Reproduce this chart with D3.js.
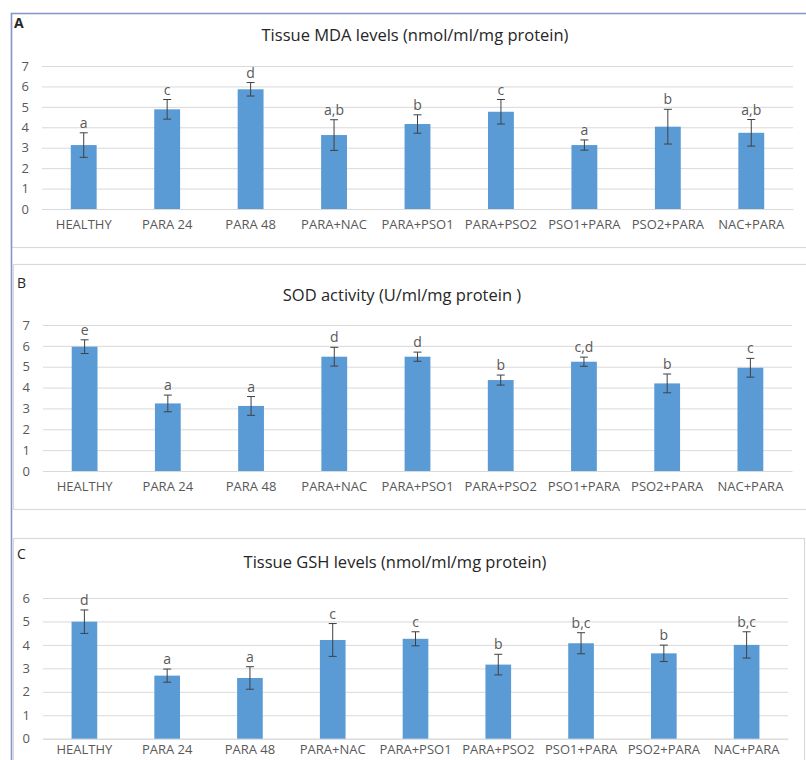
<!DOCTYPE html>
<html>
<head>
<meta charset="utf-8">
<script src="https://cdn.jsdelivr.net/npm/d3@7"></script>
<style>
  body { margin: 0; background: #fff; }
  svg { display: block; font-family: "Open Sans", "Noto Sans", sans-serif; }
</style>
</head>
<body>
<div id="root"></div>
<script>
const categories = ['HEALTHY', 'PARA 24', 'PARA 48', 'PARA+NAC', 'PARA+PSO1', 'PARA+PSO2', 'PSO1+PARA', 'PSO2+PARA', 'NAC+PARA']

const mdaValues = [3.13, 4.88, 5.86, 3.62, 4.16, 4.76, 3.13, 4.03, 3.73]
const mdaErrors = [0.6, 0.48, 0.33, 0.75, 0.45, 0.6, 0.25, 0.85, 0.65]
const mdaLetters = ['a', 'c', 'd', 'a,b', 'b', 'c', 'a', 'b', 'a,b']
const mdaTicks = [0, 1, 2, 3, 4, 5, 6, 7]

const sodValues = [5.96, 3.24, 3.12, 5.48, 5.48, 4.36, 5.24, 4.2, 4.95]
const sodErrors = [0.33, 0.4, 0.45, 0.45, 0.22, 0.24, 0.22, 0.45, 0.45]
const sodLetters = ['e', 'a', 'a', 'd', 'd', 'b', 'c,d', 'b', 'c']
const sodTicks = [0, 1, 2, 3, 4, 5, 6, 7]

const gshValues = [4.99, 2.69, 2.59, 4.21, 4.26, 3.16, 4.07, 3.64, 4.0]
const gshErrors = [0.5, 0.28, 0.48, 0.7, 0.3, 0.44, 0.45, 0.35, 0.56]
const gshLetters = ['d', 'a', 'a', 'c', 'c', 'b', 'b,c', 'b', 'b,c']
const gshTicks = [0, 1, 2, 3, 4, 5, 6]

const width = 806
const height = 760

const svg = d3.select('#root').append('svg')
  .attr('width', width)
  .attr('height', height)

// panel frames
const frames = [
  { x: 11, y: 13, w: 800, h: 234 },
  { x: 13, y: 264, w: 800, h: 245 },
  { x: 13, y: 538, w: 791, h: 240 }
]
frames.forEach(f => {
  svg.append('rect')
    .attr('x', f.x + 0.5).attr('y', f.y + 0.5)
    .attr('width', f.w).attr('height', f.h)
    .attr('fill', 'none')
    .attr('stroke', '#d9d9d9')
    .attr('stroke-width', 1.2)
})
// outer blue frame, top and left
svg.append('path')
  .attr('d', 'M11.5,' + height + 'V13.5H' + width)
  .attr('fill', 'none')
  .attr('stroke', '#8796c6')
  .attr('stroke-width', 1.6)

function drawPanel(cfg) {
  const x = d3.scaleBand().domain(categories).range([cfg.left, cfg.right]).paddingInner(0.69).paddingOuter(0.345)
  const y = d3.scaleLinear().domain([0, d3.max(cfg.ticks)]).range([cfg.bottom, cfg.top])

  const g = svg.append('g')

  g.append('g')
    .attr('transform', 'translate(' + cfg.left + ',0)')
    .call(d3.axisLeft(y).tickValues(cfg.ticks).tickFormat(d3.format('d')).tickSize(-(cfg.right - cfg.left)).tickPadding(13))
    .call(a => a.select('.domain').remove())
    .call(a => a.selectAll('.tick line').attr('stroke', '#d9d9d9').attr('stroke-width', 1))
    .call(a => a.selectAll('.tick text').attr('fill', '#595959').attr('font-size', 13).attr('font-family', '"Open Sans", sans-serif'))

  g.append('g')
    .attr('transform', 'translate(0,' + cfg.bottom + ')')
    .call(d3.axisBottom(x).tickSize(0).tickPadding(cfg.labelPad))
    .call(a => a.select('.domain').attr('stroke', '#d9d9d9'))
    .call(a => a.selectAll('.tick text').attr('fill', '#595959').attr('font-size', 13).attr('font-family', '"Open Sans", sans-serif'))

  g.selectAll('rect.bar')
    .data(cfg.values)
    .enter()
    .append('rect')
    .attr('class', 'bar')
    .attr('x', (d, i) => x(categories[i]))
    .attr('width', x.bandwidth())
    .attr('y', d => y(d))
    .attr('height', d => cfg.bottom - y(d))
    .attr('fill', '#5b9bd5')

  const errs = g.selectAll('g.err')
    .data(cfg.values)
    .enter()
    .append('g')
    .attr('class', 'err')
    .attr('stroke', '#404040')
    .attr('stroke-width', 1)
  const cx = i => x(categories[i]) + x.bandwidth() / 2
  errs.append('line')
    .attr('x1', (d, i) => cx(i)).attr('x2', (d, i) => cx(i))
    .attr('y1', (d, i) => y(d - cfg.errors[i])).attr('y2', (d, i) => y(d + cfg.errors[i]))
  errs.append('line')
    .attr('x1', (d, i) => cx(i) - 4).attr('x2', (d, i) => cx(i) + 4)
    .attr('y1', (d, i) => y(d + cfg.errors[i])).attr('y2', (d, i) => y(d + cfg.errors[i]))
  errs.append('line')
    .attr('x1', (d, i) => cx(i) - 4).attr('x2', (d, i) => cx(i) + 4)
    .attr('y1', (d, i) => y(d - cfg.errors[i])).attr('y2', (d, i) => y(d - cfg.errors[i]))

  g.selectAll('text.letter')
    .data(cfg.letters)
    .enter()
    .append('text')
    .attr('class', 'letter')
    .attr('x', (d, i) => cx(i))
    .attr('y', (d, i) => y(cfg.values[i] + cfg.errors[i]) - 5)
    .attr('text-anchor', 'middle')
    .attr('fill', '#595959')
    .attr('font-size', 14)
    .text(d => d)

  g.append('text')
    .attr('x', cfg.titleX)
    .attr('y', cfg.titleY)
    .attr('text-anchor', 'middle')
    .attr('fill', '#262626')
    .attr('font-size', 16.5)
    .text(cfg.title)

  g.append('text')
    .attr('x', cfg.tagX)
    .attr('y', cfg.tagY)
    .attr('fill', '#262626')
    .attr('font-size', 14)
    .attr('font-weight', cfg.tagBold ? 'bold' : 'normal')
    .text(cfg.tag)
}

drawPanel({
  values: mdaValues, errors: mdaErrors, letters: mdaLetters, ticks: mdaTicks,
  left: 42, right: 793, top: 66, bottom: 209, labelPad: 11,
  title: 'Tissue MDA levels (nmol/ml/mg protein)', titleX: 415, titleY: 41,
  tag: 'A', tagX: 14, tagY: 28, tagBold: true
})

drawPanel({
  values: sodValues, errors: sodErrors, letters: sodLetters, ticks: sodTicks,
  left: 43, right: 792, top: 325, bottom: 471, labelPad: 11,
  title: 'SOD activity (U/ml/mg protein )', titleX: 402, titleY: 301,
  tag: 'B', tagX: 17, tagY: 288, tagBold: false
})

drawPanel({
  values: gshValues, errors: gshErrors, letters: gshLetters, ticks: gshTicks,
  left: 43, right: 788, top: 598, bottom: 738.7, labelPad: 6,
  title: 'Tissue GSH levels (nmol/ml/mg protein)', titleX: 395, titleY: 568,
  tag: 'C', tagX: 17, tagY: 559, tagBold: false
})
</script>
</body>
</html>
